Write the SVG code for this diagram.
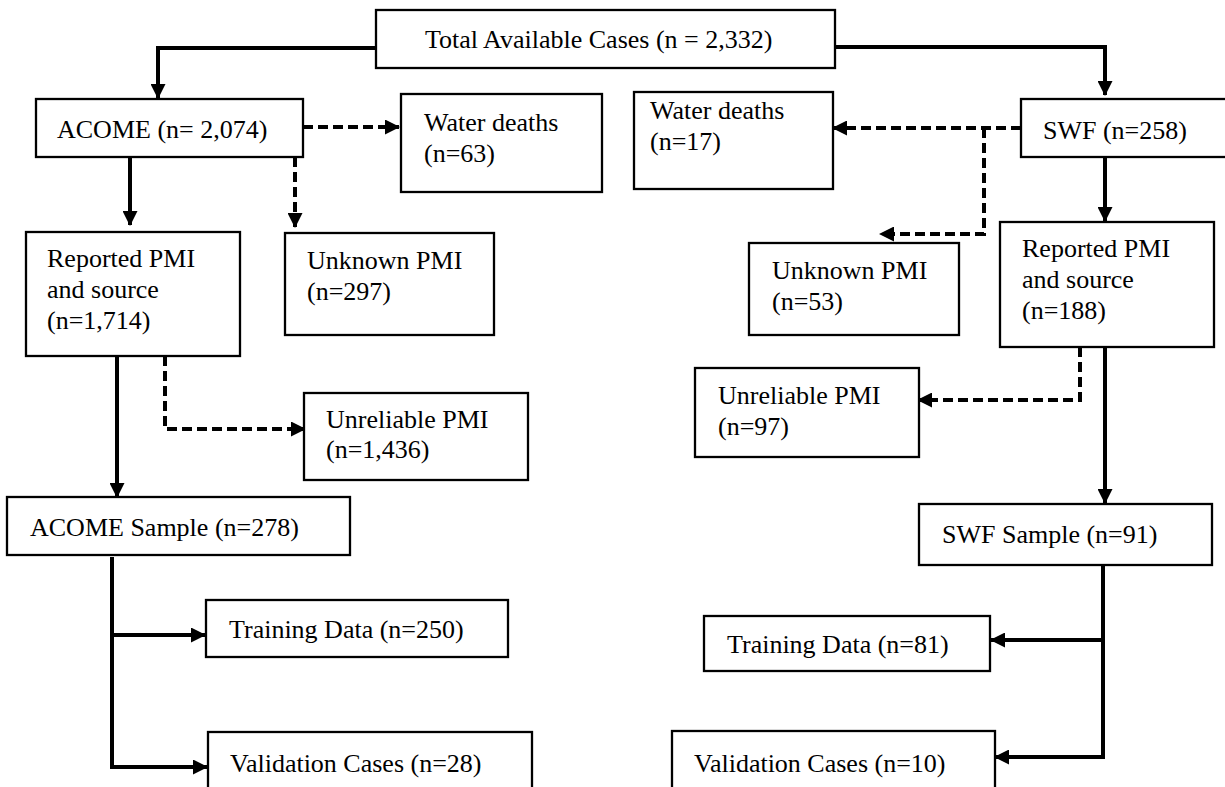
<svg xmlns="http://www.w3.org/2000/svg" width="1225" height="787" viewBox="0 0 1225 787">
<style>
.box{fill:#fff;stroke:#000;stroke-width:2.3}
.t{font-family:"Liberation Serif","Times New Roman",serif;font-size:26px;fill:#000}
.c{fill:none;stroke:#000;stroke-width:4}
.d{fill:none;stroke:#000;stroke-width:4;stroke-dasharray:10 5}
</style>
<defs>
<marker id="ah" markerUnits="userSpaceOnUse" viewBox="0 0 15 15" markerWidth="15" markerHeight="15" refX="14" refY="7.5" orient="auto">
<path d="M0,0 L15,7.5 L0,15 z" fill="#000"/>
</marker>
</defs>
<rect width="1225" height="787" fill="#fff"/>
<g id="connectors">
<path class="c" d="M376,48 H158 V98" marker-end="url(#ah)"/>
<path class="c" d="M835,47 H1105 V95" marker-end="url(#ah)"/>
<path class="d" d="M303,127 H399" marker-end="url(#ah)"/>
<path class="c" d="M130,157 V225" marker-end="url(#ah)"/>
<path class="d" d="M295,157 V227" marker-end="url(#ah)"/>
<path class="d" d="M1021,128 H833" marker-end="url(#ah)"/>
<path class="d" d="M984,128 V234 H880" marker-end="url(#ah)"/>
<path class="c" d="M1105,157 V221" marker-end="url(#ah)"/>
<path class="c" d="M117,356 V497" marker-end="url(#ah)"/>
<path class="d" d="M165,356 V429 H305" marker-end="url(#ah)"/>
<path class="d" d="M1080,347 V400 H918" marker-end="url(#ah)"/>
<path class="c" d="M1105,347 V503" marker-end="url(#ah)"/>
<path class="c" d="M112,557 V767 H207" marker-end="url(#ah)"/>
<path class="c" d="M112,635 H205" marker-end="url(#ah)"/>
<path class="c" d="M1103,565 V757 H995" marker-end="url(#ah)"/>
<path class="c" d="M1103,640 H991" marker-end="url(#ah)"/>
</g>
<g id="total"><rect class="box" x="376" y="10" width="459" height="58"/><text class="t" x="425" y="48">Total Available Cases (n = 2,332)</text></g>
<g id="acome"><rect class="box" x="36" y="99" width="267" height="58"/><text class="t" x="57" y="138">ACOME (n= 2,074)</text></g>
<g id="water63"><rect class="box" x="401" y="94" width="201" height="98"/><text class="t" x="424" y="131">Water deaths</text><text class="t" x="424" y="162">(n=63)</text></g>
<g id="water17"><rect class="box" x="634" y="92" width="199" height="97"/><text class="t" x="650" y="119">Water deaths</text><text class="t" x="650" y="150">(n=17)</text></g>
<g id="swf"><rect class="box" x="1021" y="99" width="215" height="58"/><text class="t" x="1043" y="139">SWF (n=258)</text></g>
<g id="reported1714"><rect class="box" x="26" y="232" width="214" height="124"/><text class="t" x="47" y="267">Reported PMI</text><text class="t" x="47" y="298">and source</text><text class="t" x="47" y="329">(n=1,714)</text></g>
<g id="unknown297"><rect class="box" x="285" y="233" width="209" height="102"/><text class="t" x="307" y="269">Unknown PMI</text><text class="t" x="307" y="300">(n=297)</text></g>
<g id="unknown53"><rect class="box" x="749" y="243" width="210" height="92"/><text class="t" x="772" y="279">Unknown PMI</text><text class="t" x="772" y="310">(n=53)</text></g>
<g id="reported188"><rect class="box" x="1000" y="222" width="214" height="125"/><text class="t" x="1022" y="257">Reported PMI</text><text class="t" x="1022" y="288">and source</text><text class="t" x="1022" y="319">(n=188)</text></g>
<g id="unreliable1436"><rect class="box" x="304" y="393" width="224" height="87"/><text class="t" x="326" y="428">Unreliable PMI</text><text class="t" x="326" y="458">(n=1,436)</text></g>
<g id="unreliable97"><rect class="box" x="695" y="368" width="224" height="89"/><text class="t" x="718" y="404">Unreliable PMI</text><text class="t" x="718" y="435">(n=97)</text></g>
<g id="acomeSample"><rect class="box" x="7" y="497" width="343" height="58"/><text class="t" x="30" y="536">ACOME Sample (n=278)</text></g>
<g id="swfSample"><rect class="box" x="919" y="504" width="293" height="61"/><text class="t" x="942" y="543">SWF Sample (n=91)</text></g>
<g id="training250"><rect class="box" x="206" y="600" width="302" height="57"/><text class="t" x="229" y="638">Training Data (n=250)</text></g>
<g id="training81"><rect class="box" x="704" y="616" width="286" height="55"/><text class="t" x="727" y="653">Training Data (n=81)</text></g>
<g id="validation28"><rect class="box" x="208" y="732" width="324" height="70"/><text class="t" x="230" y="772">Validation Cases (n=28)</text></g>
<g id="validation10"><rect class="box" x="672" y="731" width="323" height="70"/><text class="t" x="694" y="772">Validation Cases (n=10)</text></g>
</svg>
